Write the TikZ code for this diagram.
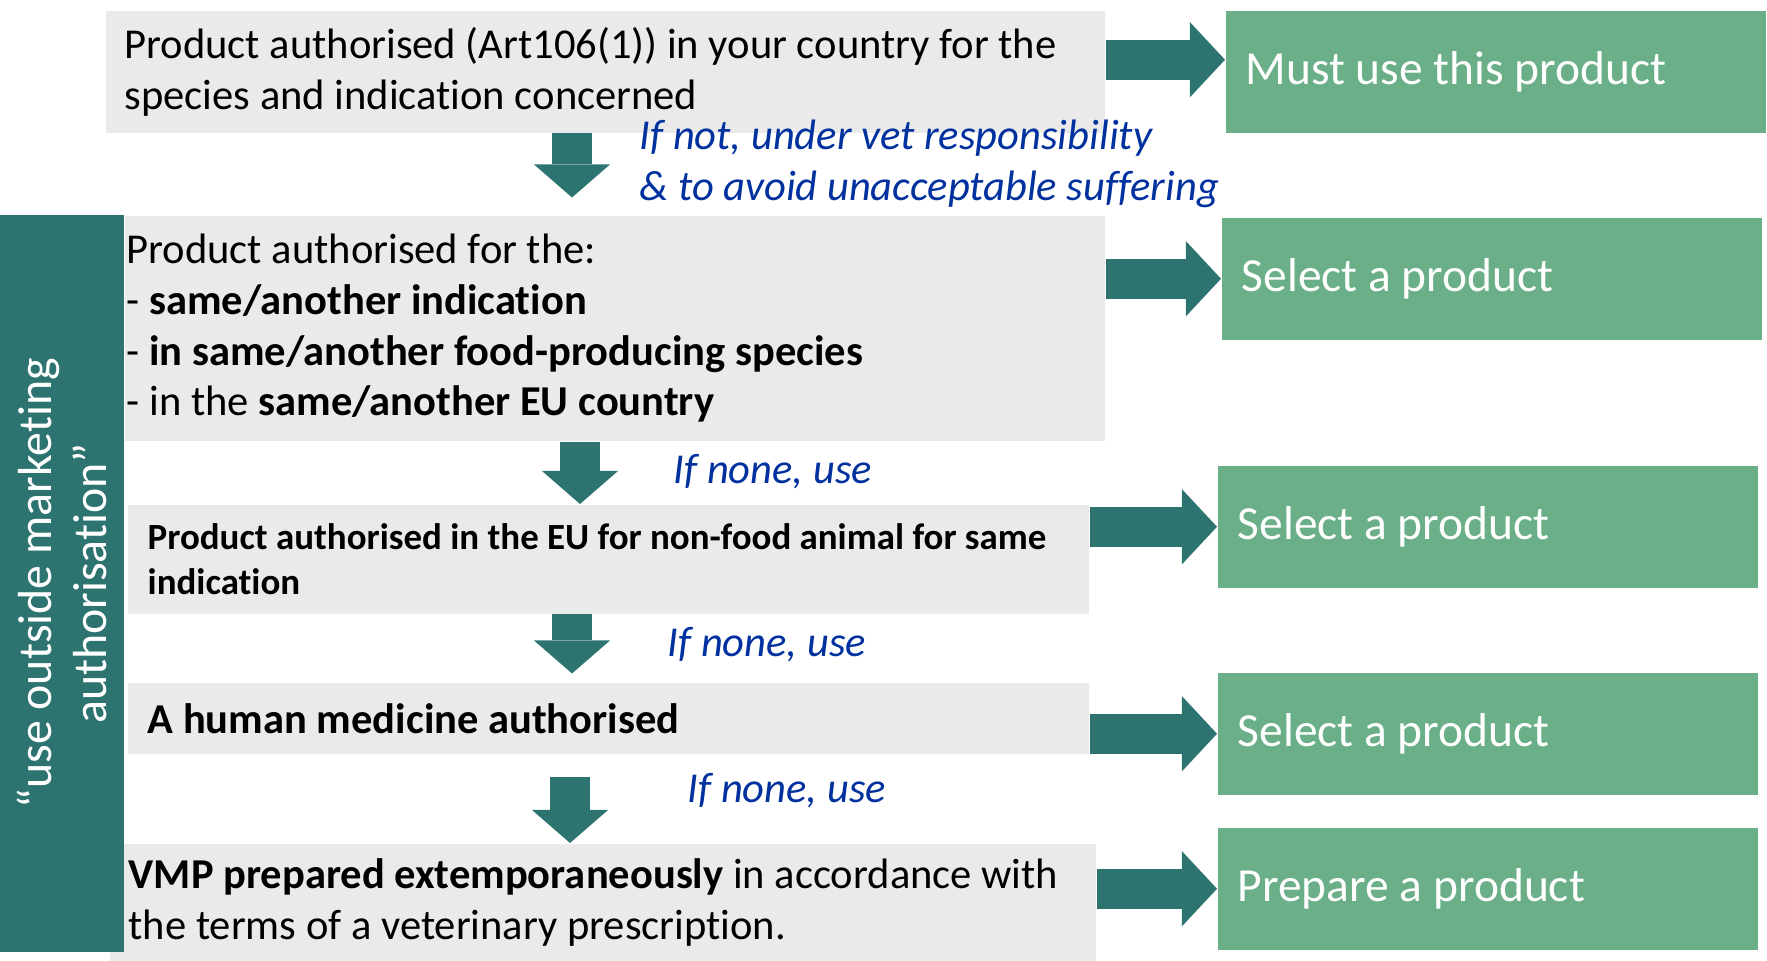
\documentclass[tikz,border=0pt]{standalone}
\usepackage{fontspec}
\setmainfont{Carlito}[Ligatures={NoCommon}]
\usetikzlibrary{arrows.meta,positioning}
\definecolor{mgrey}{HTML}{EAEAEA}
\definecolor{mgreen}{HTML}{6AAF87}
\definecolor{mteal}{HTML}{2D7470}
\definecolor{mblue}{HTML}{00319E}
\newcommand{\bodysize}{\fontsize{12.1}{14.4}\selectfont}
\newcommand{\notesize}{\fontsize{12.1}{14.4}\selectfont}
\newcommand{\smallbold}{\fontsize{10.5}{12.8}\selectfont\bfseries}
\newcommand{\actsize}{\fontsize{13.5}{16}\selectfont}
\newcommand{\sidesize}{\fontsize{13.6}{15.4}\selectfont}
\tikzstyle{cond}=[anchor=north west, fill=mgrey, inner ysep=0pt, align=flush left, font=\bodysize]
\tikzstyle{act}=[anchor=north west, fill=mgreen, text=white, minimum height=1.22cm, inner xsep=0.2cm, text width=5.0cm, align=flush left, font=\actsize]
\tikzstyle{sidebar}=[fill=mteal, text=white, inner sep=0pt, align=flush center, font=\sidesize]
\tikzstyle{rarr}=[draw=mteal, line width=0.4cm, -{Triangle[length=0.35cm, width=0.75cm, line width=0pt]}]
\tikzstyle{darr}=[draw=mteal, line width=0.4cm, -{Triangle[length=0.33cm, width=0.76cm, line width=0pt]}]
\tikzstyle{note}=[anchor=west, inner sep=0pt, text=mblue, align=flush left, font=\notesize\itshape]

\begin{document}
\begin{tikzpicture}[x=0.01cm, y=-0.01cm]
    \useasboundingbox (0,0) rectangle (1767,961);

    \node (c1) [cond, minimum height=1.22cm, inner xsep=0.19cm, text width=9.61cm] at (105,10) {Product authorised (Art106(1)) in your country for the\\species and indication concerned};
    \node (c2) [cond, minimum height=2.25cm, inner xsep=0.02cm, text width=9.76cm] at (124,215) {Product authorised for the:\\- \textbf{same/another indication}\\- \textbf{in same/another food-producing species}\\- in the \textbf{same/another EU country}};
    \node (c3) [cond, minimum height=1.09cm, inner xsep=0.2cm, text width=9.21cm, font=\smallbold] at (127,504) {Product authorised in the EU for non-food animal for same\\indication};
    \node (c4) [cond, minimum height=0.71cm, inner xsep=0.2cm, text width=9.21cm, font=\bodysize\bfseries] at (127,682) {A human medicine authorised};
    \node (c5) [cond, minimum height=1.18cm, inner xsep=0.19cm, text width=9.48cm] at (109,843) {\textbf{VMP prepared extemporaneously} in accordance with\\the terms of a veterinary prescription.};

    \node (side) [sidebar, minimum width=7.37cm, minimum height=1.24cm, rotate=90] at (62,583.5) {“use outside marketing\\authorisation”};

    \node (a1) [act] at (1225,10) {Must use this product};
    \node (a2) [act] at (1221,217) {Select a product};
    \node (a3) [act] at (1217,465) {Select a product};
    \node (a4) [act] at (1217,672) {Select a product};
    \node (a5) [act] at (1217,827) {Prepare a product};

    \draw[rarr] ([yshift=0.12cm]c1.east) -- ([yshift=0.12cm]a1.west);
    \draw[rarr] (c2.east |- a2.west) -- (a2.west);
    \draw[rarr] (c3.east |- a3.west) -- (a3.west);
    \draw[rarr] (c4.east |- a4.west) -- (a4.west);
    \draw[rarr] (c5.east |- a5.west) -- (a5.west);

    \draw[darr] (c1.south -| 572,0) -- ++(0,64);
    \draw[darr] (c2.south -| 580,0) -- (c3.north -| 580,0);
    \draw[darr] (c3.south -| 572,0) -- ++(0,59);
    \draw[darr] (c5.north -| 570,0) ++(0,-66) -- (c5.north -| 570,0);

    \node (n1) [note] at (639,164) {If not, under vet responsibility\\\& to avoid unacceptable suffering};
    \node (n2) [note] at (673,472) {If none, use};
    \node (n3) [note] at (667,645) {If none, use};
    \node (n4) [note] at (687,791) {If none, use};
\end{tikzpicture}
\end{document}
